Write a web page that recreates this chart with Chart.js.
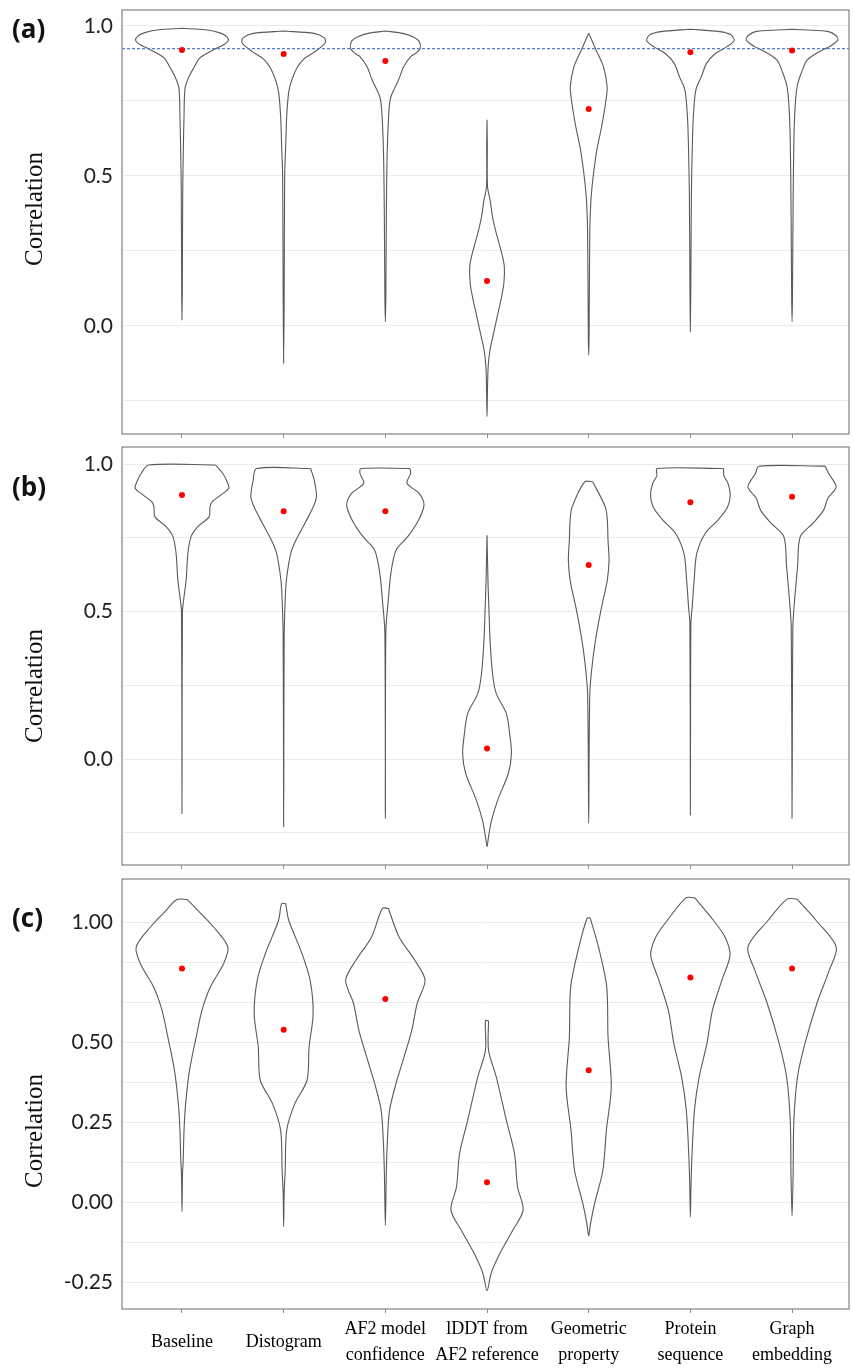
<!DOCTYPE html>
<html>
<head>
<meta charset="utf-8">
<script src="https://cdn.jsdelivr.net/npm/chart.js@4/dist/chart.umd.min.js"></script>
<style>
  body { margin: 0; background: #fff; width: 853px; height: 1372px; position: relative; overflow: hidden; }
  canvas { position: absolute; left: 0; }
  .tag { position: absolute; left: 12px; font: bold 26px "Open Sans", sans-serif; line-height: 1; color: #111; transform: translateY(-50%); }
  .ytitle { position: absolute; left: 34px; font: 25px "Liberation Serif", serif; color: #111; white-space: nowrap;
            transform: translate(-50%, -50%) rotate(-90deg); }
</style>
</head>
<body>
<canvas id="chartA" width="853" height="440" style="top:0px"></canvas>
<canvas id="chartB" width="853" height="432" style="top:440px"></canvas>
<canvas id="chartC" width="853" height="500" style="top:872px"></canvas>
<div class="tag" style="top:28px">(a)</div>
<div class="tag" style="top:486px">(b)</div>
<div class="tag" style="top:917px">(c)</div>
<div class="ytitle" style="top:209px">Correlation</div>
<div class="ytitle" style="top:686px">Correlation</div>
<div class="ytitle" style="top:1131px">Correlation</div>
<script>
// categories (x axis)
const categories = [
    ['Baseline'], ['Distogram'], ['AF2 model', 'confidence'], ['lDDT from', 'AF2 reference'],
    ['Geometric', 'property'], ['Protein', 'sequence'], ['Graph', 'embedding']
];

// violin outlines: [value, half width (in category units)] from top to bottom
const shapesA = [
    [[0.992,0],[0.987,0.23],[0.976,0.38],[0.964,0.44],[0.951,0.455],[0.937,0.41],[0.926,0.345],[0.909,0.247],[0.892,0.171],[0.864,0.122],[0.831,0.069],[0.792,0.03],[0.698,0.02],[0.587,0.013],[0.442,0.007],[0.12,0.003],[0.02,0]],
    [[0.983,0],[0.975,0.3],[0.96,0.4],[0.945,0.41],[0.93,0.37],[0.91,0.29],[0.89,0.2],[0.86,0.13],[0.82,0.08],[0.78,0.05],[0.7,0.03],[0.6,0.02],[0.5,0.01],[0.1,0.005],[-0.124,0]],
    [[0.983,0],[0.976,0.16],[0.964,0.27],[0.95,0.33],[0.926,0.343],[0.909,0.3],[0.898,0.25],[0.864,0.18],[0.82,0.13],[0.764,0.055],[0.72,0.036],[0.576,0.018],[0.376,0.01],[0.11,0.005],[0.014,0]],
    [[0.687,0],[0.6,0.003],[0.464,0.005],[0.42,0.03],[0.364,0.054],[0.31,0.09],[0.243,0.144],[0.198,0.17],[0.143,0.166],[0.087,0.137],[0.031,0.1],[-0.024,0.065],[-0.08,0.029],[-0.136,0.011],[-0.224,0.004],[-0.302,0]],
    [[0.976,0],[0.92,0.072],[0.864,0.145],[0.798,0.181],[0.753,0.17],[0.664,0.127],[0.587,0.08],[0.498,0.044],[0.42,0.022],[0.32,0.011],[-0.024,0.004],[-0.097,0]],
    [[0.989,0],[0.981,0.29],[0.97,0.4],[0.951,0.43],[0.931,0.36],[0.909,0.25],[0.876,0.16],[0.831,0.108],[0.787,0.054],[0.698,0.029],[0.587,0.018],[0.44,0.01],[0.12,0.004],[-0.019,0]],
    [[0.989,0],[0.981,0.36],[0.968,0.43],[0.953,0.45],[0.931,0.37],[0.92,0.3],[0.887,0.15],[0.842,0.09],[0.798,0.05],[0.731,0.03],[0.62,0.018],[0.4,0.01],[0.1,0.004],[0.014,0]]
];
const shapesB = [
    [[0.997,0.33],[0.969,0.4],[0.946,0.436],[0.918,0.46],[0.895,0.38],[0.872,0.296],[0.855,0.276],[0.821,0.266],[0.788,0.156],[0.754,0.089],[0.697,0.058],[0.607,0.041],[0.55,0.02],[0.5,0.005],[-0.184,0]],
    [[0.985,0.265],[0.946,0.3],[0.883,0.32],[0.8,0.21],[0.742,0.12],[0.698,0.07],[0.607,0.027],[0.54,0.015],[0.41,0.005],[-0.229,0]],
    [[0.985,0.24],[0.969,0.25],[0.935,0.213],[0.9,0.334],[0.861,0.38],[0.81,0.326],[0.754,0.22],[0.708,0.105],[0.629,0.054],[0.539,0.029],[0.431,0.005],[-0.201,0]],
    [[0.759,0],[0.595,0.01],[0.516,0.018],[0.403,0.03],[0.29,0.054],[0.223,0.09],[0.155,0.19],[0.087,0.222],[0.019,0.24],[-0.048,0.21],[-0.139,0.105],[-0.207,0.045],[-0.263,0.015],[-0.297,0]],
    [[0.94,0.04],[0.855,0.163],[0.81,0.183],[0.742,0.19],[0.675,0.2],[0.607,0.183],[0.516,0.127],[0.426,0.078],[0.336,0.04],[0.223,0.011],[-0.218,0]],
    [[0.985,0.326],[0.96,0.33],[0.935,0.37],[0.895,0.392],[0.855,0.366],[0.81,0.27],[0.765,0.145],[0.697,0.063],[0.607,0.037],[0.516,0.018],[0.46,0.005],[-0.19,0]],
    [[0.993,0.326],[0.968,0.36],[0.923,0.434],[0.884,0.352],[0.844,0.31],[0.8,0.207],[0.754,0.081],[0.652,0.054],[0.539,0.025],[0.448,0.008],[-0.201,0]]
];
const shapesC = [
    [[0.947,0.05],[0.913,0.156],[0.861,0.31],[0.799,0.45],[0.747,0.41],[0.674,0.28],[0.601,0.197],[0.518,0.14],[0.413,0.074],[0.309,0.036],[0.226,0.02],[0.132,0.012],[0.09,0.005],[-0.029,0]],
    [[0.934,0.02],[0.882,0.05],[0.778,0.18],[0.695,0.26],[0.59,0.29],[0.486,0.25],[0.382,0.23],[0.309,0.11],[0.226,0.03],[0.1,0.015],[0.03,0.005],[-0.076,0]],
    [[0.919,0.03],[0.83,0.135],[0.757,0.29],[0.695,0.39],[0.622,0.313],[0.538,0.26],[0.455,0.184],[0.372,0.105],[0.288,0.041],[0.205,0.022],[0.1,0.01],[-0.071,0]],
    [[0.568,0.015],[0.476,0.015],[0.393,0.09],[0.257,0.19],[0.153,0.27],[0.049,0.3],[-0.024,0.355],[-0.087,0.253],[-0.159,0.127],[-0.222,0.04],[-0.276,0]],
    [[0.889,0.015],[0.799,0.096],[0.674,0.177],[0.518,0.19],[0.361,0.222],[0.226,0.174],[0.1,0.139],[-0.003,0.058],[-0.066,0.018],[-0.105,0]],
    [[0.952,0.044],[0.882,0.226],[0.83,0.34],[0.773,0.39],[0.695,0.31],[0.601,0.217],[0.497,0.163],[0.393,0.087],[0.288,0.04],[0.143,0.015],[0.05,0.006],[-0.045,0]],
    [[0.948,0.05],[0.882,0.235],[0.799,0.434],[0.726,0.366],[0.622,0.244],[0.497,0.127],[0.393,0.054],[0.257,0.018],[0.08,0.01],[-0.043,0]]
];

// means (red dots)
const meansA = [0.92, 0.906, 0.883, 0.15, 0.723, 0.912, 0.918];
const meansB = [0.895, 0.84, 0.84, 0.036, 0.658, 0.871, 0.889];
const meansC = [0.731, 0.54, 0.636, 0.063, 0.413, 0.703, 0.731];

// dashed reference line in panel (a)
const refLineA = 0.924;

// y ticks and their labels
const yTicksA = [-0.25, 0, 0.25, 0.5, 0.75, 1.0];
const yLabelsA = ['', '0.0', '', '0.5', '', '1.0'];
const yTicksB = [-0.25, 0, 0.25, 0.5, 0.75, 1.0];
const yLabelsB = ['', '0.0', '', '0.5', '', '1.0'];
const yTicksC = [-0.25, -0.125, 0, 0.125, 0.25, 0.375, 0.5, 0.625, 0.75, 0.875];
const yLabelsC = ['-0.25', '', '0.00', '', '0.25', '', '0.50', '', '', '1.00'];

// outline polygon of one violin, right side down then left side up
function violinPoints(center, profile) {
    const right = profile.map(p => ({ x: center + p[1], y: p[0] }));
    const left = profile.slice().reverse().map(p => ({ x: center - p[1], y: p[0] }));
    if (profile[profile.length - 1][1] === 0) left.shift();
    if (profile[0][1] === 0) left.pop();
    const pts = right.concat(left);
    pts.push({ x: pts[0].x, y: pts[0].y });
    return pts;
}

const boxPlugin = {
    id: 'box',
    afterDraw(chart) {
        const a = chart.chartArea, ctx = chart.ctx;
        ctx.save();
        ctx.strokeStyle = '#8c8c8c';
        ctx.lineWidth = 1.3;
        ctx.strokeRect(a.left, a.top, a.right - a.left, a.bottom - a.top);
        ctx.restore();
    }
};

function makePanel(canvasId, shapes, means, yMin, yMax, yTicks, yLabels, cfg) {
    const datasets = [];
    datasets.push({
        data: means.map((m, i) => ({ x: i, y: m })),
        pointRadius: 3, pointBackgroundColor: '#ff0000', pointBorderWidth: 0,
        showLine: false, order: 0
    });
    if (cfg.refLine !== undefined) {
        datasets.push({
            data: [{ x: -0.59, y: cfg.refLine }, { x: 6.56, y: cfg.refLine }],
            showLine: true, pointRadius: 0, borderColor: '#4f7fd0', borderWidth: 1.2,
            borderDash: [3, 2], order: 1
        });
    }
    shapes.forEach((s, i) => {
        datasets.push({
            data: violinPoints(i, s),
            showLine: true, pointRadius: 0, borderColor: '#5a5a5a', borderWidth: 1.1,
            tension: 0.3, fill: false, order: 2
        });
    });

    return new Chart(document.getElementById(canvasId), {
        type: 'scatter',
        data: { datasets: datasets },
        options: {
            responsive: false,
            animation: false,
            events: [],
            layout: { autoPadding: false, padding: { top: cfg.padTop, right: 4, left: 0, bottom: 0 } },
            plugins: { legend: { display: false }, tooltip: { enabled: false } },
            scales: {
                x: {
                    type: 'linear', min: -0.59, max: 6.56,
                    afterBuildTicks: s => { s.ticks = categories.map((c, i) => ({ value: i })); },
                    afterFit: s => { s.height = cfg.xHeight; s.paddingLeft = 0; s.paddingRight = 0; },
                    grid: { drawOnChartArea: false, drawTicks: true, tickLength: 4, color: '#8c8c8c' },
                    border: { display: false },
                    ticks: {
                        display: cfg.showX, autoSkip: false, maxRotation: 0, padding: 16,
                        crossAlign: 'center', color: '#000',
                        font: { family: 'Liberation Serif', size: 18, lineHeight: 1.45 },
                        callback: (v, i) => categories[i]
                    }
                },
                y: {
                    min: yMin, max: yMax,
                    afterBuildTicks: s => { s.ticks = yTicks.map(v => ({ value: v })); },
                    afterFit: s => { s.width = 122; s.paddingTop = 0; s.paddingBottom = 0; },
                    grid: { color: '#ececec', drawTicks: false },
                    border: { display: false },
                    ticks: {
                        padding: 9, color: '#222',
                        font: { family: 'Lato', size: 21 },
                        callback: (v, i) => yLabels[i]
                    }
                }
            }
        },
        plugins: [boxPlugin]
    });
}

makePanel('chartA', shapesA, meansA, -0.36, 1.053, yTicksA, yLabelsA, { padTop: 10, xHeight: 6, showX: false, refLine: refLineA });
makePanel('chartB', shapesB, meansB, -0.359, 1.058, yTicksB, yLabelsB, { padTop: 7, xHeight: 7, showX: false });
makePanel('chartC', shapesC, meansC, -0.333, 1.011, yTicksC, yLabelsC, { padTop: 7, xHeight: 63, showX: true });
</script>
</body>
</html>
